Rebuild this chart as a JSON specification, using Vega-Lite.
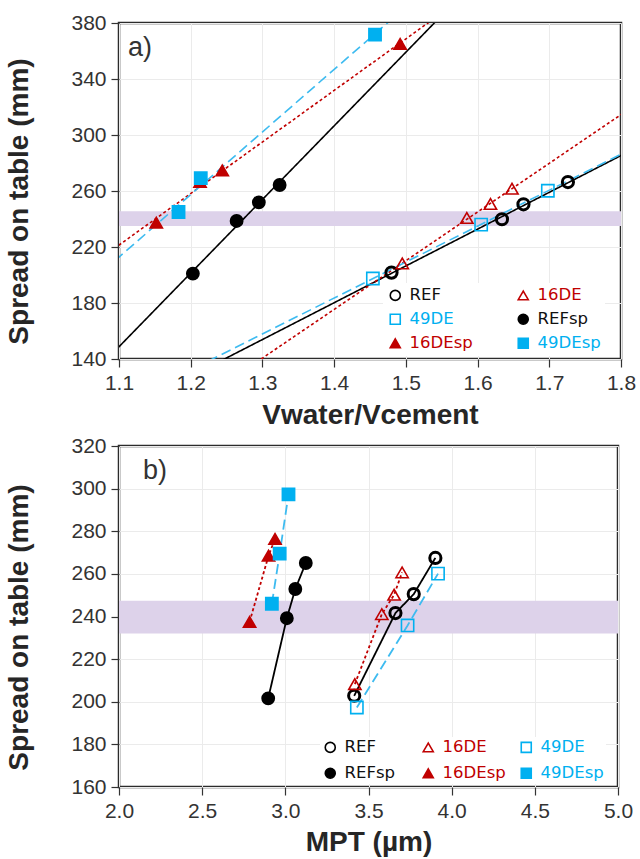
{
  "$schema": "https://vega.github.io/schema/vega-lite/v6.json",
  "background": "white",
  "padding": {"left": 4, "top": 10, "right": 0, "bottom": 0},
  "spacing": 2,
  "config": {
    "view": {"stroke": "#2b2b2b", "strokeWidth": 2.5},
    "axis": {
      "labelFont": "Liberation Sans", "labelFontSize": 21, "labelColor": "#333333",
      "titleFont": "Liberation Sans", "titleFontSize": 28, "titleFontWeight": "bold", "titleColor": "#262626",
      "domain": false, "tickColor": "#333333", "tickSize": 8, "tickWidth": 1.2,
      "gridColor": "#ebebeb", "labelPadding": 5, "labelFlush": false, "labelOverlap": false, "labelBound": false
    }
  },
  "datasets": {
    "a": [
      {"series": "REF", "ratio": 1.480, "spread": 201.7},
      {"series": "REF", "ratio": 1.634, "spread": 239.8},
      {"series": "REF", "ratio": 1.664, "spread": 250.5},
      {"series": "REF", "ratio": 1.726, "spread": 266.4},
      {"series": "16DE", "ratio": 1.495, "spread": 208.2},
      {"series": "16DE", "ratio": 1.585, "spread": 240.7},
      {"series": "16DE", "ratio": 1.618, "spread": 250.7},
      {"series": "16DE", "ratio": 1.648, "spread": 261.6},
      {"series": "49DE", "ratio": 1.454, "spread": 197.5},
      {"series": "49DE", "ratio": 1.605, "spread": 236.0},
      {"series": "49DE", "ratio": 1.698, "spread": 260.2},
      {"series": "REFsp", "ratio": 1.203, "spread": 201.0},
      {"series": "REFsp", "ratio": 1.264, "spread": 238.6},
      {"series": "REFsp", "ratio": 1.295, "spread": 251.9},
      {"series": "REFsp", "ratio": 1.324, "spread": 264.3},
      {"series": "16DEsp", "ratio": 1.152, "spread": 237.4},
      {"series": "16DEsp", "ratio": 1.213, "spread": 266.5},
      {"series": "16DEsp", "ratio": 1.244, "spread": 274.7},
      {"series": "16DEsp", "ratio": 1.492, "spread": 365.0},
      {"series": "49DEsp", "ratio": 1.183, "spread": 245.0},
      {"series": "49DEsp", "ratio": 1.214, "spread": 269.2},
      {"series": "49DEsp", "ratio": 1.457, "spread": 371.7}
    ],
    "b": [
      {"series": "REF", "mpt": 3.414, "spread": 202.8},
      {"series": "REF", "mpt": 3.662, "spread": 241.6},
      {"series": "REF", "mpt": 3.772, "spread": 250.5},
      {"series": "REF", "mpt": 3.902, "spread": 267.5},
      {"series": "16DE", "mpt": 3.418, "spread": 208.3},
      {"series": "16DE", "mpt": 3.580, "spread": 241.1},
      {"series": "16DE", "mpt": 3.654, "spread": 250.2},
      {"series": "16DE", "mpt": 3.702, "spread": 260.7},
      {"series": "49DE", "mpt": 3.430, "spread": 197.3},
      {"series": "49DE", "mpt": 3.735, "spread": 235.8},
      {"series": "49DE", "mpt": 3.918, "spread": 260.1},
      {"series": "REFsp", "mpt": 2.897, "spread": 201.6},
      {"series": "REFsp", "mpt": 3.009, "spread": 239.2},
      {"series": "REFsp", "mpt": 3.060, "spread": 252.9},
      {"series": "REFsp", "mpt": 3.123, "spread": 265.1},
      {"series": "16DEsp", "mpt": 2.785, "spread": 237.5},
      {"series": "16DEsp", "mpt": 2.899, "spread": 268.5},
      {"series": "16DEsp", "mpt": 2.938, "spread": 276.4},
      {"series": "49DEsp", "mpt": 2.919, "spread": 246.0},
      {"series": "49DEsp", "mpt": 2.966, "spread": 269.5},
      {"series": "49DEsp", "mpt": 3.019, "spread": 297.3}
    ]
  },
  "resolve": {
    "scale": {"x": "independent", "y": "independent", "shape": "independent", "fill": "independent", "stroke": "independent", "color": "independent", "strokeDash": "independent"},
    "legend": {"shape": "independent", "fill": "independent", "stroke": "independent", "color": "independent", "strokeDash": "independent"}
  },
  "vconcat": [
    {
      "width": 502,
      "height": 336,
      "layer": [
        {
          "data": {"values": [{"lo": 235, "hi": 245.5}]},
          "mark": {"type": "rect", "color": "#ddd2ea"},
          "encoding": {
            "y": {"field": "lo", "type": "quantitative", "title": "Spread on table (mm)",
              "scale": {"domain": [140, 380], "nice": false, "zero": false},
              "axis": {"values": [140, 180, 220, 260, 300, 340, 380], "titleY": 178, "titlePadding": 37, "grid": true}},
            "y2": {"field": "hi"}
          }
        },
        {
          "data": {"name": "a"},
          "transform": [{"regression": "spread", "on": "ratio", "groupby": ["series"], "extent": [1.0, 1.9]}],
          "mark": {"type": "line", "clip": true, "strokeWidth": 1.6},
          "encoding": {
            "x": {"field": "ratio", "type": "quantitative", "title": "Vwater/Vcement",
              "scale": {"domain": [1.1, 1.8], "nice": false, "zero": false},
              "axis": {"values": [1.1, 1.2, 1.3, 1.4, 1.5, 1.6, 1.7, 1.8], "format": ".1f", "titlePadding": 8, "grid": true}},
            "y": {"field": "spread", "type": "quantitative", "title": "Spread on table (mm)"},
            "color": {"field": "series", "type": "nominal", "legend": null,
              "scale": {"domain": ["REF", "REFsp", "16DE", "16DEsp", "49DE", "49DEsp"], "range": ["#000000", "#000000", "#c00000", "#c00000", "#3dbbf0", "#3dbbf0"]}},
            "strokeDash": {"field": "series", "type": "nominal", "legend": null,
              "scale": {"domain": ["REF", "REFsp", "16DE", "16DEsp", "49DE", "49DEsp"], "range": [[1, 0], [1, 0], [3, 2.5], [3, 2.5], [10, 5], [10, 5]]}}
          }
        },
        {
          "data": {"name": "a"},
          "mark": {"type": "point", "filled": true, "opacity": 1},
          "encoding": {
            "x": {"field": "ratio", "type": "quantitative", "title": "Vwater/Vcement"},
            "y": {"field": "spread", "type": "quantitative", "title": "Spread on table (mm)"},
            "shape": {"field": "series", "type": "nominal",
              "scale": {"domain": ["REF", "16DE", "49DE", "REFsp", "16DEsp", "49DEsp"], "range": ["circle", "triangle-up", "square", "circle", "triangle-up", "square"]},
              "legend": {"title": null, "orient": "none", "legendX": 264, "legendY": 260, "direction": "horizontal", "columns": 2, "gridAlign": "all", "columnPadding": 42, "rowPadding": 7,
                "symbolSize": 100, "symbolStrokeWidth": 1.6, "labelFont": "DejaVu Sans", "labelFontSize": 16.5, "labelOffset": 6, "padding": 4, "fillColor": "white",
                "labelColor": {"expr": "datum.value === 'REF' || datum.value === 'REFsp' ? '#111111' : (indexof(datum.value, '16') === 0 ? '#c00000' : '#00b0f0')"},
                "encode": {
                  "symbols": {"update": {"strokeWidth": {"signal": "datum.value === 'REF' ? 2.8 : 1.6"}}}
                }}},
            "fill": {"field": "series", "type": "nominal",
              "scale": {"domain": ["REF", "16DE", "49DE", "REFsp", "16DEsp", "49DEsp"], "range": ["transparent", "transparent", "transparent", "#000000", "#c00000", "#00b0f0"]}},
            "stroke": {"field": "series", "type": "nominal",
              "scale": {"domain": ["REF", "16DE", "49DE", "REFsp", "16DEsp", "49DEsp"], "range": ["#000000", "#c00000", "#00b0f0", "#000000", "#c00000", "#00b0f0"]}},
            "size": {"condition": {"test": "datum.series === 'REF'", "value": 125}, "value": 150},
            "strokeWidth": {"condition": {"test": "datum.series === 'REF'", "value": 3}, "value": 1.6}
          }
        },
        {
          "data": {"values": [{"label": "a)"}]},
          "mark": {"type": "text", "align": "left", "baseline": "top", "dx": 9, "dy": 12, "fontSize": 27, "font": "Liberation Sans", "color": "#333333"},
          "encoding": {
            "x": {"datum": 1.1, "type": "quantitative", "title": "Vwater/Vcement"},
            "y": {"datum": 380, "type": "quantitative", "title": "Spread on table (mm)"},
            "text": {"field": "label"}
          }
        }
      ]
    },
    {
      "width": 499,
      "height": 341,
      "layer": [
        {
          "data": {"values": [{"lo": 232, "hi": 247.4}]},
          "mark": {"type": "rect", "color": "#ddd2ea"},
          "encoding": {
            "y": {"field": "lo", "type": "quantitative", "title": "Spread on table (mm)",
              "scale": {"domain": [160, 320], "nice": false, "zero": false},
              "axis": {"values": [160, 180, 200, 220, 240, 260, 280, 300, 320], "titleY": 181, "titlePadding": 37, "grid": true}},
            "y2": {"field": "hi"}
          }
        },
        {
          "data": {"name": "b"},
          "mark": {"type": "line", "strokeWidth": 1.8},
          "encoding": {
            "x": {"field": "mpt", "type": "quantitative", "title": "MPT (µm)",
              "scale": {"domain": [2.0, 5.0], "nice": false, "zero": false},
              "axis": {"values": [2.0, 2.5, 3.0, 3.5, 4.0, 4.5, 5.0], "format": ".1f", "titlePadding": 7, "grid": true}},
            "y": {"field": "spread", "type": "quantitative", "title": "Spread on table (mm)"},
            "color": {"field": "series", "type": "nominal", "legend": null,
              "scale": {"domain": ["REF", "REFsp", "16DE", "16DEsp", "49DE", "49DEsp"], "range": ["#000000", "#000000", "#c00000", "#c00000", "#3dbbf0", "#3dbbf0"]}},
            "strokeDash": {"field": "series", "type": "nominal", "legend": null,
              "scale": {"domain": ["REF", "REFsp", "16DE", "16DEsp", "49DE", "49DEsp"], "range": [[1, 0], [1, 0], [3, 2.5], [3, 2.5], [10, 5], [10, 5]]}}
          }
        },
        {
          "data": {"name": "b"},
          "mark": {"type": "point", "filled": true, "opacity": 1},
          "encoding": {
            "x": {"field": "mpt", "type": "quantitative", "title": "MPT (µm)"},
            "y": {"field": "spread", "type": "quantitative", "title": "Spread on table (mm)"},
            "shape": {"field": "series", "type": "nominal",
              "scale": {"domain": ["REF", "16DE", "49DE", "REFsp", "16DEsp", "49DEsp"], "range": ["circle", "triangle-up", "square", "circle", "triangle-up", "square"]},
              "legend": {"title": null, "orient": "none", "legendX": 201, "legendY": 291, "direction": "horizontal", "columns": 3, "gridAlign": "all", "columnPadding": 12, "rowPadding": 9,
                "symbolSize": 100, "symbolStrokeWidth": 1.6, "labelFont": "DejaVu Sans", "labelFontSize": 16.5, "labelOffset": 6, "padding": 2, "fillColor": "white",
                "labelColor": {"expr": "datum.value === 'REF' || datum.value === 'REFsp' ? '#111111' : (indexof(datum.value, '16') === 0 ? '#c00000' : '#00b0f0')"},
                "encode": {
                  "symbols": {"update": {"strokeWidth": {"signal": "datum.value === 'REF' ? 2.8 : 1.6"}}}
                }}},
            "fill": {"field": "series", "type": "nominal",
              "scale": {"domain": ["REF", "16DE", "49DE", "REFsp", "16DEsp", "49DEsp"], "range": ["transparent", "transparent", "transparent", "#000000", "#c00000", "#00b0f0"]}},
            "stroke": {"field": "series", "type": "nominal",
              "scale": {"domain": ["REF", "16DE", "49DE", "REFsp", "16DEsp", "49DEsp"], "range": ["#000000", "#c00000", "#00b0f0", "#000000", "#c00000", "#00b0f0"]}},
            "size": {"condition": {"test": "datum.series === 'REF'", "value": 125}, "value": 150},
            "strokeWidth": {"condition": {"test": "datum.series === 'REF'", "value": 3}, "value": 1.6}
          }
        },
        {
          "data": {"values": [{"label": "b)"}]},
          "mark": {"type": "text", "align": "left", "baseline": "top", "dx": 24, "dy": 12, "fontSize": 27, "font": "Liberation Sans", "color": "#333333"},
          "encoding": {
            "x": {"datum": 2.0, "type": "quantitative", "title": "MPT (µm)"},
            "y": {"datum": 320, "type": "quantitative", "title": "Spread on table (mm)"},
            "text": {"field": "label"}
          }
        }
      ]
    }
  ]
}
